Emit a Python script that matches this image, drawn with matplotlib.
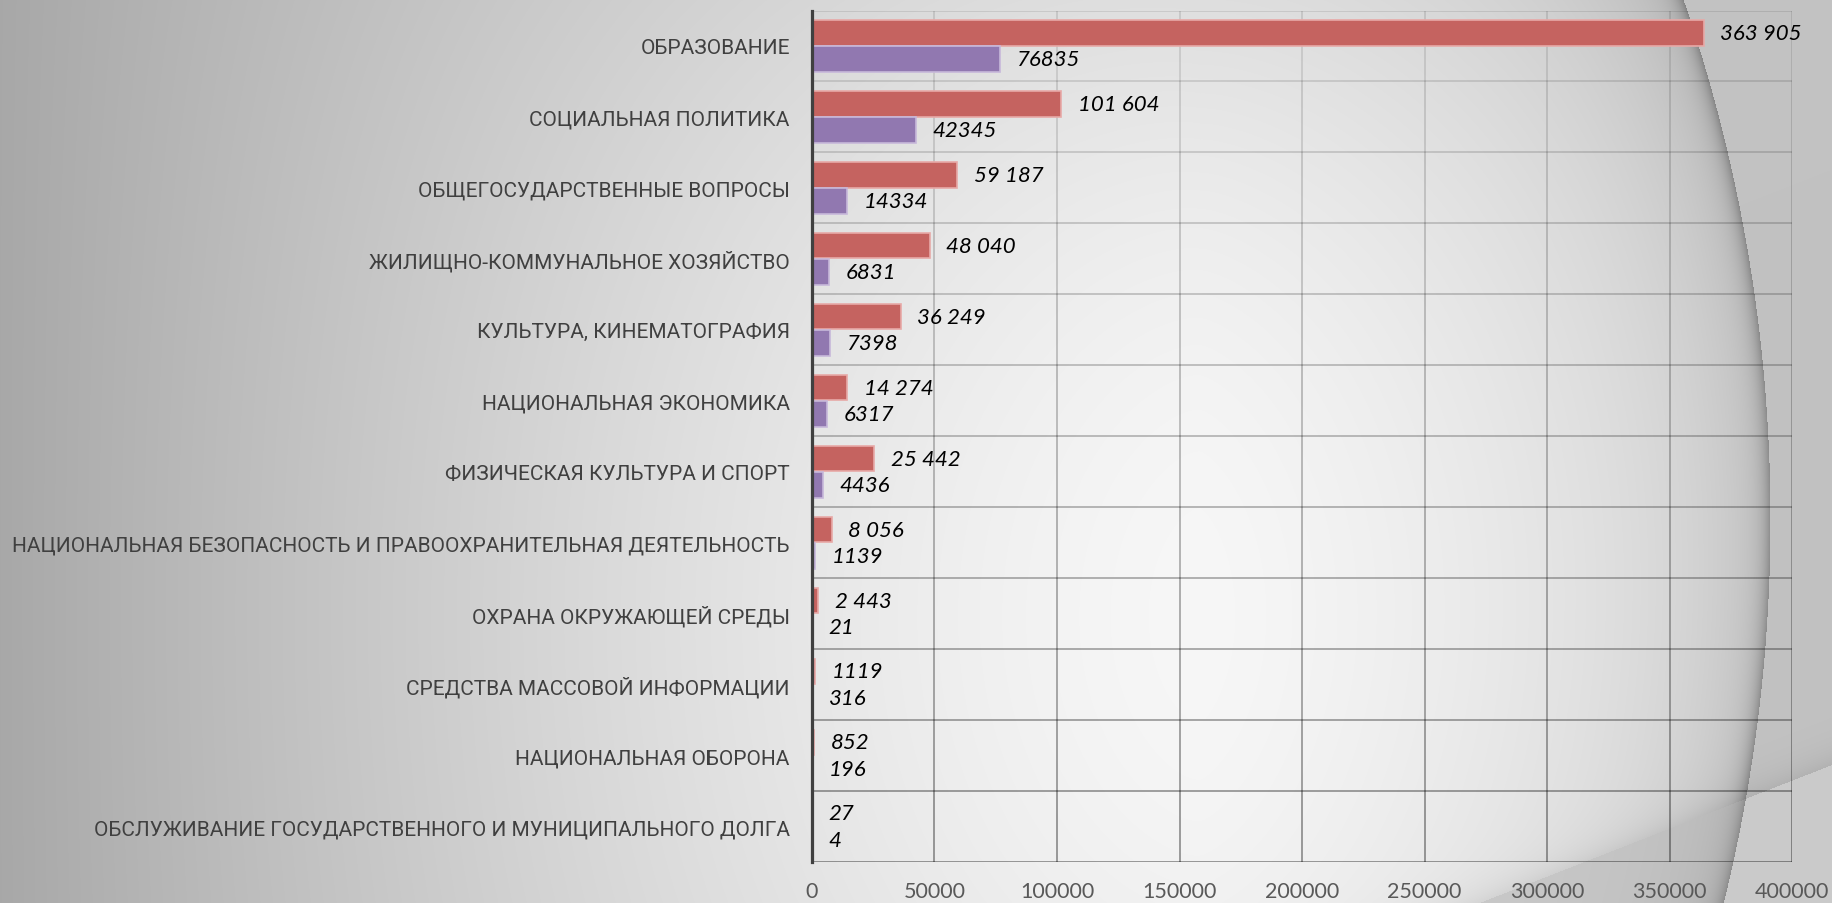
import numpy as np
import matplotlib
matplotlib.use("Agg")
import matplotlib.pyplot as plt
from matplotlib.collections import LineCollection

categories = [
    "ОБРАЗОВАНИЕ",
    "СОЦИАЛЬНАЯ ПОЛИТИКА",
    "ОБЩЕГОСУДАРСТВЕННЫЕ ВОПРОСЫ",
    "ЖИЛИЩНО-КОММУНАЛЬНОЕ ХОЗЯЙСТВО",
    "КУЛЬТУРА, КИНЕМАТОГРАФИЯ",
    "НАЦИОНАЛЬНАЯ ЭКОНОМИКА",
    "ФИЗИЧЕСКАЯ КУЛЬТУРА И СПОРТ",
    "НАЦИОНАЛЬНАЯ БЕЗОПАСНОСТЬ И ПРАВООХРАНИТЕЛЬНАЯ ДЕЯТЕЛЬНОСТЬ",
    "ОХРАНА ОКРУЖАЮЩЕЙ СРЕДЫ",
    "СРЕДСТВА МАССОВОЙ ИНФОРМАЦИИ",
    "НАЦИОНАЛЬНАЯ ОБОРОНА",
    "ОБСЛУЖИВАНИЕ ГОСУДАРСТВЕННОГО И МУНИЦИПАЛЬНОГО ДОЛГА",
]
series_red = [363905, 101604, 59187, 48040, 36249, 14274, 25442, 8056, 2443, 1119, 852, 27]
series_purple = [76835, 42345, 14334, 6831, 7398, 6317, 4436, 1139, 21, 316, 196, 4]
red_labels = ["363 905", "101 604", "59 187", "48 040", "36 249", "14 274",
              "25 442", "8 056", "2 443", "1119", "852", "27"]
purple_labels = ["76835", "42345", "14334", "6831", "7398", "6317",
                 "4436", "1139", "21", "316", "196", "4"]
x_ticks = [0, 50000, 100000, 150000, 200000, 250000, 300000, 350000, 400000]

W, H = 1833, 904


def background():
    yy, xx = np.mgrid[0:H, 0:W].astype(float)
    h = np.abs(xx - 1200) / 1200
    v = 248 - 80 * h ** 1.4 - 24 * (1 - np.clip(h, 0, 1)) * ((yy - 620) / 620) ** 2
    # large arc on the right
    r = np.hypot(xx - 173, yy - 520)
    R = 1597.0
    inside = r < R
    band = np.clip(R - r, 0, None)
    arc_shadow = np.where(inside,
                          50 * np.exp(-band / 8) + 18 * np.exp(-band / 60)
                          + 12 * np.exp(-band / 250), 0.0)
    v = np.where(inside, v, 194.0)
    # second soft curve at bottom right
    p1 = np.array([1450.0, 915.0])
    p2 = np.array([1833.0, 765.0])
    t = p2 - p1
    n = np.array([t[1], -t[0]]) / np.hypot(*t)
    s = (xx - p1[0]) * n[0] + (yy - p1[1]) * n[1]
    s = -s if n[1] > 0 else s
    below = s < 0
    v = np.where(below, np.minimum(v, 204.0) + 0 * v,
                 v - 16 * np.exp(-np.clip(s, 0, None) / 16))
    v = np.where(below & ~inside, 202.0, v)
    v = v - arc_shadow * np.where(below, 0.8, 1.0)
    v = np.clip(v, 0, 255).astype(np.uint8)
    return np.dstack([v, v, v])


fig = plt.figure(figsize=(W / 100, H / 100), dpi=100)
fig.figimage(background(), 0, 0, zorder=-10, origin="upper")

left, right, top, bottom = 812, 1792, 11.5, 863
ax = fig.add_axes([left / W, (H - bottom) / H, (right - left) / W, (bottom - top) / H])
ax.set_zorder(2)
ax.patch.set_alpha(0)

n = len(categories)
y = np.arange(n)
bh = 0.36
off = 0.185
ax.barh(y - off, series_red, height=bh, color="#C56360", edgecolor="#E7A9A7",
        linewidth=1.2, zorder=3)
ax.barh(y + off, series_purple, height=bh, color="#9178B0", edgecolor="#C7B8DA",
        linewidth=1.2, zorder=3)

ax.set_xlim(0, 400000)
ax.set_ylim(n - 0.5, -0.5)


def grid_col(frac):
    return (0.0, 0.0, 0.0, 0.12 + 0.36 * frac)


for k, yb in enumerate(np.arange(-0.5, n, 1.0)):
    ax.hlines(yb, 0, 400000, color=grid_col(k / n), lw=1.1, zorder=1)
segs, cols = [], []
for i in range(n):
    for xv in x_ticks[1:]:
        segs.append([(xv, i - 0.5), (xv, i + 0.5)])
        cols.append(grid_col((i + 0.5) / n))
ax.add_collection(LineCollection(segs, colors=cols, linewidths=1.1, zorder=1))

for side in ["top", "right", "bottom"]:
    ax.spines[side].set_visible(False)
ax.spines["left"].set_color("#404040")
ax.spines["left"].set_linewidth(2.3)
ax.spines["left"].set_zorder(5)

ax.set_yticks(y)
ylabels = ax.set_yticklabels(categories, family=["Roboto", "DejaVu Sans"],
                             fontsize=15, color="#404040")
ax.tick_params(axis="y", length=0, pad=16)
ax.set_xticks(x_ticks)
ax.set_xticklabels([str(t) for t in x_ticks], family=["Lato", "DejaVu Sans"],
                   fontsize=15.5, color="#595959")
ax.tick_params(axis="x", length=0, pad=14)

# fit the longest category label to the reference width (~780 px)
fig.canvas.draw()
renderer = fig.canvas.get_renderer()
longest = max(ylabels, key=lambda t: t.get_window_extent(renderer).width)
wpx = longest.get_window_extent(renderer).width
fs = 15 * 780.0 / wpx
for t in ax.get_yticklabels():
    t.set_fontsize(fs)

for i in range(n):
    ax.annotate(red_labels[i], (series_red[i], i - off), xytext=(12, 0),
                textcoords="offset points", va="center", ha="left",
                fontsize=16, fontstyle="italic", family=["Lato", "DejaVu Sans"],
                color="black", zorder=6)
    ax.annotate(purple_labels[i], (series_purple[i], i + off), xytext=(12, 0),
                textcoords="offset points", va="center", ha="left",
                fontsize=16, fontstyle="italic", family=["Lato", "DejaVu Sans"],
                color="black", zorder=6)

fig.savefig("out.png", dpi=100)
